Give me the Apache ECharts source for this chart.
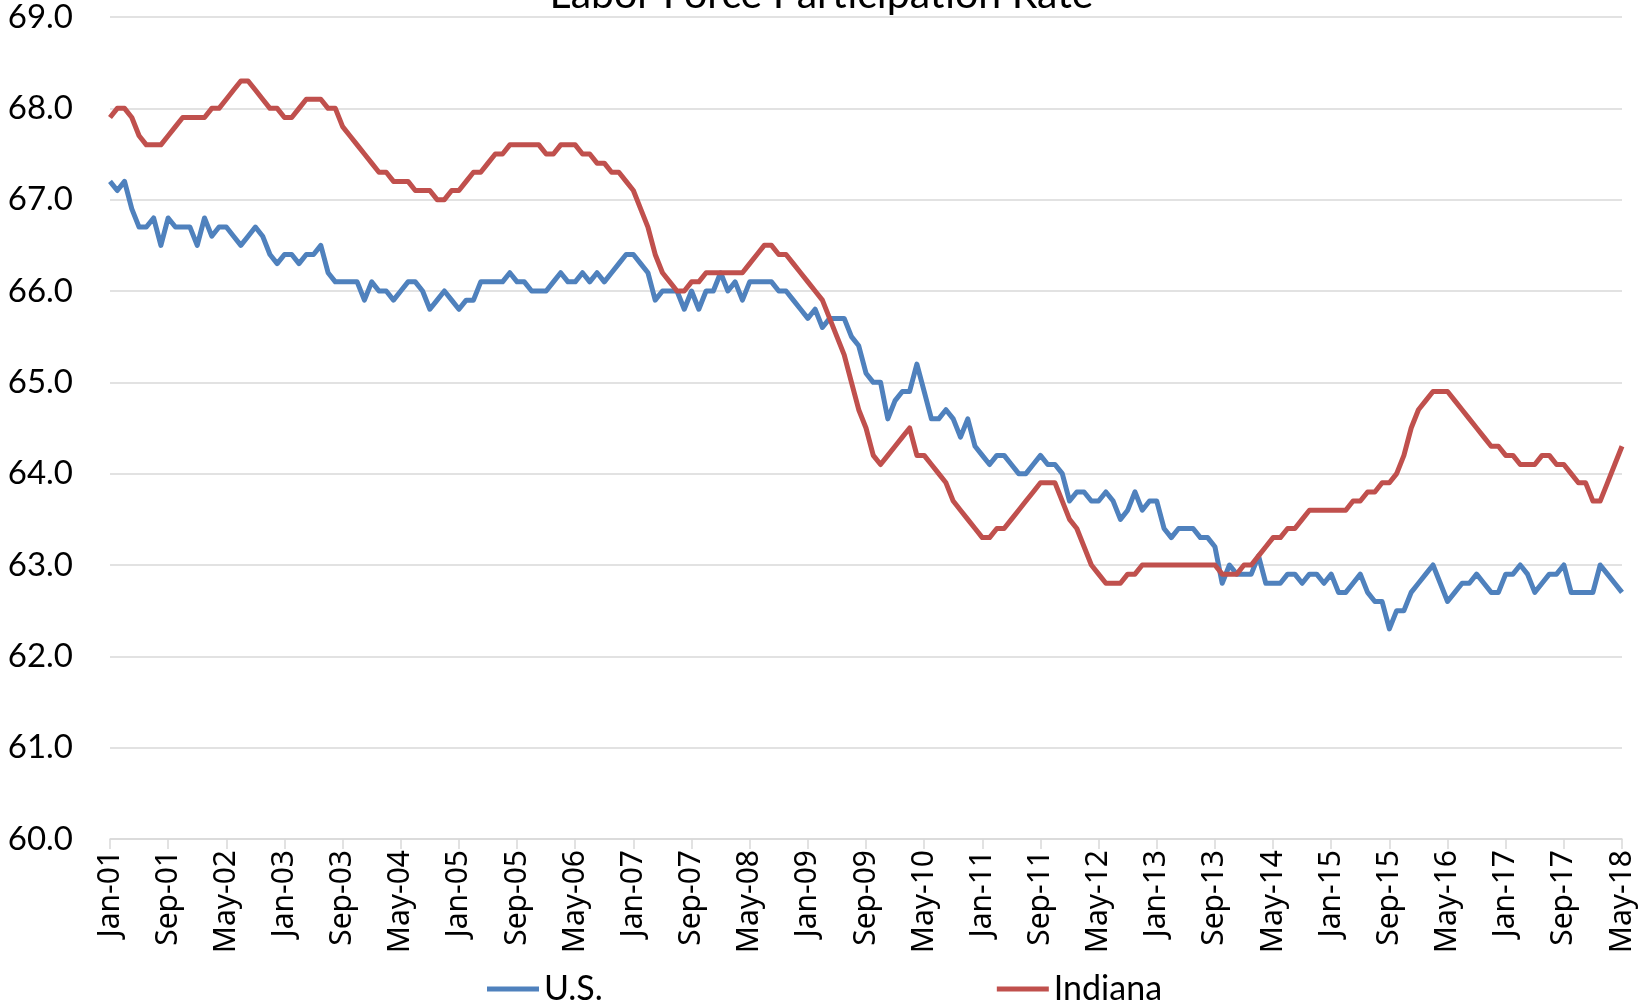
<!DOCTYPE html>
<html>
<head>
<meta charset="utf-8">
<script src="https://cdn.jsdelivr.net/npm/echarts@6/dist/echarts.min.js"></script>
<style>
  html, body { margin: 0; padding: 0; background: #fff; }
  #container { width: 1643px; height: 1008px; }
</style>
</head>
<body>
<div id="container"></div>
<script>
// month labels, Jan-01 .. May-18
const monthNames = ['Jan', 'Feb', 'Mar', 'Apr', 'May', 'Jun', 'Jul', 'Aug', 'Sep', 'Oct', 'Nov', 'Dec'];
const firstYear = 2001;
const lastYear = 2018;
const lastMonth = 5;

// U.S. participation rate, one row per year
const usRate = [
  67.2, 67.1, 67.2, 66.9, 66.7, 66.7, 66.8, 66.5, 66.8, 66.7, 66.7, 66.7,
  66.5, 66.8, 66.6, 66.7, 66.7, 66.6, 66.5, 66.6, 66.7, 66.6, 66.4, 66.3,
  66.4, 66.4, 66.3, 66.4, 66.4, 66.5, 66.2, 66.1, 66.1, 66.1, 66.1, 65.9,
  66.1, 66.0, 66.0, 65.9, 66.0, 66.1, 66.1, 66.0, 65.8, 65.9, 66.0, 65.9,
  65.8, 65.9, 65.9, 66.1, 66.1, 66.1, 66.1, 66.2, 66.1, 66.1, 66.0, 66.0,
  66.0, 66.1, 66.2, 66.1, 66.1, 66.2, 66.1, 66.2, 66.1, 66.2, 66.3, 66.4,
  66.4, 66.3, 66.2, 65.9, 66.0, 66.0, 66.0, 65.8, 66.0, 65.8, 66.0, 66.0,
  66.2, 66.0, 66.1, 65.9, 66.1, 66.1, 66.1, 66.1, 66.0, 66.0, 65.9, 65.8,
  65.7, 65.8, 65.6, 65.7, 65.7, 65.7, 65.5, 65.4, 65.1, 65.0, 65.0, 64.6,
  64.8, 64.9, 64.9, 65.2, 64.9, 64.6, 64.6, 64.7, 64.6, 64.4, 64.6, 64.3,
  64.2, 64.1, 64.2, 64.2, 64.1, 64.0, 64.0, 64.1, 64.2, 64.1, 64.1, 64.0,
  63.7, 63.8, 63.8, 63.7, 63.7, 63.8, 63.7, 63.5, 63.6, 63.8, 63.6, 63.7,
  63.7, 63.4, 63.3, 63.4, 63.4, 63.4, 63.3, 63.3, 63.2, 62.8, 63.0, 62.9,
  62.9, 62.9, 63.1, 62.8, 62.8, 62.8, 62.9, 62.9, 62.8, 62.9, 62.9, 62.8,
  62.9, 62.7, 62.7, 62.8, 62.9, 62.7, 62.6, 62.6, 62.3, 62.5, 62.5, 62.7,
  62.8, 62.9, 63.0, 62.8, 62.6, 62.7, 62.8, 62.8, 62.9, 62.8, 62.7, 62.7,
  62.9, 62.9, 63.0, 62.9, 62.7, 62.8, 62.9, 62.9, 63.0, 62.7, 62.7, 62.7,
  62.7, 63.0, 62.9, 62.8, 62.7
];

// Indiana participation rate
const indianaRate = [
  67.9, 68.0, 68.0, 67.9, 67.7, 67.6, 67.6, 67.6, 67.7, 67.8, 67.9, 67.9,
  67.9, 67.9, 68.0, 68.0, 68.1, 68.2, 68.3, 68.3, 68.2, 68.1, 68.0, 68.0,
  67.9, 67.9, 68.0, 68.1, 68.1, 68.1, 68.0, 68.0, 67.8, 67.7, 67.6, 67.5,
  67.4, 67.3, 67.3, 67.2, 67.2, 67.2, 67.1, 67.1, 67.1, 67.0, 67.0, 67.1,
  67.1, 67.2, 67.3, 67.3, 67.4, 67.5, 67.5, 67.6, 67.6, 67.6, 67.6, 67.6,
  67.5, 67.5, 67.6, 67.6, 67.6, 67.5, 67.5, 67.4, 67.4, 67.3, 67.3, 67.2,
  67.1, 66.9, 66.7, 66.4, 66.2, 66.1, 66.0, 66.0, 66.1, 66.1, 66.2, 66.2,
  66.2, 66.2, 66.2, 66.2, 66.3, 66.4, 66.5, 66.5, 66.4, 66.4, 66.3, 66.2,
  66.1, 66.0, 65.9, 65.7, 65.5, 65.3, 65.0, 64.7, 64.5, 64.2, 64.1, 64.2,
  64.3, 64.4, 64.5, 64.2, 64.2, 64.1, 64.0, 63.9, 63.7, 63.6, 63.5, 63.4,
  63.3, 63.3, 63.4, 63.4, 63.5, 63.6, 63.7, 63.8, 63.9, 63.9, 63.9, 63.7,
  63.5, 63.4, 63.2, 63.0, 62.9, 62.8, 62.8, 62.8, 62.9, 62.9, 63.0, 63.0,
  63.0, 63.0, 63.0, 63.0, 63.0, 63.0, 63.0, 63.0, 63.0, 62.9, 62.9, 62.9,
  63.0, 63.0, 63.1, 63.2, 63.3, 63.3, 63.4, 63.4, 63.5, 63.6, 63.6, 63.6,
  63.6, 63.6, 63.6, 63.7, 63.7, 63.8, 63.8, 63.9, 63.9, 64.0, 64.2, 64.5,
  64.7, 64.8, 64.9, 64.9, 64.9, 64.8, 64.7, 64.6, 64.5, 64.4, 64.3, 64.3,
  64.2, 64.2, 64.1, 64.1, 64.1, 64.2, 64.2, 64.1, 64.1, 64.0, 63.9, 63.9,
  63.7, 63.7, 63.9, 64.1, 64.3
];

let categories = [];
for (let y = firstYear; y <= lastYear; y++) {
    let yy = String(y % 100).padStart(2, '0');
    let count = y === lastYear ? lastMonth : 12;
    for (let m = 0; m < count; m++) {
        categories.push(monthNames[m] + '-' + yy);
    }
}

let dom = document.getElementById('container');
let myChart = echarts.init(dom, null, { renderer: 'canvas' });

let option = {
    animation: false,
    backgroundColor: '#fff',
    title: {
        text: 'Labor Force Participation Rate',
        left: 'center',
        top: -31,
        textStyle: {
            fontFamily: 'Lato',
            fontSize: 41,
            fontWeight: 'normal',
            color: '#000'
        }
    },
    legend: {
        left: 487,
        top: 972,
        padding: 0,
        itemGap: 394,
        itemWidth: 52,
        itemHeight: 5,
        icon: 'rect',
        textStyle: {
            fontFamily: 'Lato',
            fontSize: 34,
            color: '#000'
        },
        data: ['U.S.', 'Indiana']
    },
    grid: {
        left: 110,
        right: 21,
        top: 17,
        bottom: 169
    },
    xAxis: {
        type: 'category',
        boundaryGap: false,
        data: categories,
        axisLine: { lineStyle: { color: '#d9d9d9', width: 1.5 } },
        axisTick: {
            interval: 7,
            length: 10,
            lineStyle: { color: '#d9d9d9', width: 1.5 }
        },
        axisLabel: {
            interval: 7,
            rotate: 90,
            margin: 11,
            fontFamily: 'Noto Sans',
            fontSize: 30,
            color: '#000'
        },
        splitLine: { show: false }
    },
    yAxis: {
        type: 'value',
        min: 60,
        max: 69,
        interval: 1,
        axisLine: { show: false },
        axisTick: { show: false },
        axisLabel: {
            margin: 37,
            fontFamily: 'Lato',
            fontSize: 33,
            color: '#000',
            formatter: function (value) {
                return value.toFixed(1);
            }
        },
        splitLine: { lineStyle: { color: '#d9d9d9', width: 1.5 } }
    },
    series: [
        {
            name: 'U.S.',
            type: 'line',
            symbol: 'none',
            data: usRate,
            itemStyle: { color: '#4f81bd' },
            lineStyle: { color: '#4f81bd', width: 5, join: 'round' }
        },
        {
            name: 'Indiana',
            type: 'line',
            symbol: 'none',
            data: indianaRate,
            itemStyle: { color: '#c0504d' },
            lineStyle: { color: '#c0504d', width: 5, join: 'round' }
        }
    ]
};

if (option && typeof option === 'object') {
    myChart.setOption(option, true);
}
</script>
</body>
</html>
